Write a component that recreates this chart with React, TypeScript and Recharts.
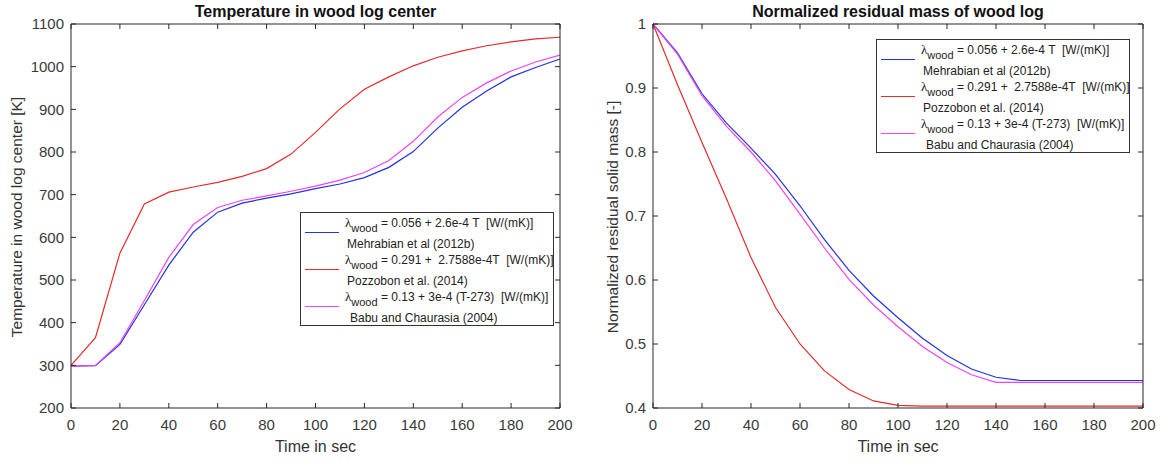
import React from 'react';
import { LineChart, Line, XAxis, YAxis } from 'recharts';

const time = [0, 10, 20, 30, 40, 50, 60, 70, 80, 90, 100, 110, 120, 130, 140, 150, 160, 170, 180, 190, 200];

// temperature in log center [K]
const tempMehrabian = [298, 299, 349, 442, 535, 612, 659, 680, 692, 702, 714, 725, 740, 764, 801, 856, 905, 943, 976, 998, 1018];
const tempPozzobon = [300, 365, 563, 678, 706, 718, 729, 743, 761, 795, 846, 901, 947, 976, 1002, 1022, 1037, 1049, 1058, 1065, 1069];
const tempBabu = [298, 300, 353, 452, 553, 630, 670, 687, 697, 708, 720, 734, 752, 780, 825, 882, 928, 962, 990, 1011, 1027];

// normalized residual solid mass [-]
const massMehrabian = [1, 0.955, 0.891, 0.845, 0.806, 0.765, 0.716, 0.663, 0.615, 0.575, 0.541, 0.509, 0.482, 0.461, 0.448, 0.443, 0.443, 0.443, 0.443, 0.443, 0.443];
const massPozzobon = [1, 0.905, 0.815, 0.727, 0.635, 0.557, 0.5, 0.458, 0.429, 0.411, 0.404, 0.403, 0.403, 0.403, 0.403, 0.403, 0.403, 0.403, 0.403, 0.403, 0.403];
const massBabu = [1, 0.953, 0.888, 0.84, 0.8, 0.755, 0.703, 0.65, 0.601, 0.561, 0.527, 0.496, 0.471, 0.452, 0.44, 0.44, 0.44, 0.44, 0.44, 0.44, 0.44];

const xTicks = [0, 20, 40, 60, 80, 100, 120, 140, 160, 180, 200];
const tempTicks = [200, 300, 400, 500, 600, 700, 800, 900, 1000, 1100];
const massTicks = [0.4, 0.5, 0.6, 0.7, 0.8, 0.9, 1];

const seriesInfo = [
  { key: 'mehrabian', color: '#2233dd', eq: ' = 0.056 + 2.6e-4 T  [W/(mK)]', src: 'Mehrabian et al (2012b)', indent: 0 },
  { key: 'pozzobon', color: '#e42c2c', eq: ' = 0.291 +  2.7588e-4T  [W/(mK)]', src: 'Pozzobon et al. (2014)', indent: 0 },
  { key: 'babu', color: '#ee44ee', eq: ' = 0.13 + 3e-4 (T-273)  [W/(mK)]', src: 'Babu and Chaurasia (2004)', indent: 3 },
];

const tempData = time.map((t, i) => ({
  t,
  mehrabian: tempMehrabian[i],
  pozzobon: tempPozzobon[i],
  babu: tempBabu[i],
}));

const massData = time.map((t, i) => ({
  t,
  mehrabian: massMehrabian[i],
  pozzobon: massPozzobon[i],
  babu: massBabu[i],
}));

const FONT = '"Liberation Sans", Arial, Helvetica, sans-serif';
const AXIS = '#262626';
const TICK_LEN = 5;
const X_GAP = 11; // from axis line to top of x tick label
const Y_GAP = 7; // from axis line to right edge of y tick label

// MATLAB style: tick marks point into the plot box
const BottomTick = (props: any) => {
  const { x, y, payload } = props;
  return (
    <g>
      <line x1={x} x2={x} y1={y} y2={y - TICK_LEN} stroke={AXIS} strokeWidth={1} />
      <text x={x} y={y + X_GAP} dy="0.71em" textAnchor="middle" fontSize={15} fontFamily={FONT} fill="#3a3a3a">
        {payload.value}
      </text>
    </g>
  );
};

const TopTick = (props: any) => {
  const { x, y } = props;
  return <line x1={x} x2={x} y1={y} y2={y + TICK_LEN} stroke={AXIS} strokeWidth={1} />;
};

const makeLeftTick = (fmt: (v: number) => string) => (props: any) => {
  const { x, y, payload } = props;
  return (
    <g>
      <line x1={x} x2={x + TICK_LEN} y1={y} y2={y} stroke={AXIS} strokeWidth={1} />
      <text x={x - Y_GAP} y={y} dy="0.355em" textAnchor="end" fontSize={15} fontFamily={FONT} fill="#3a3a3a">
        {fmt(payload.value)}
      </text>
    </g>
  );
};

const RightTick = (props: any) => {
  const { x, y } = props;
  return <line x1={x} x2={x - TICK_LEN} y1={y} y2={y} stroke={AXIS} strokeWidth={1} />;
};

const LegendBox: React.FC<{ left: number; top: number }> = ({ left, top }) => (
  <div
    style={{
      position: 'absolute',
      left,
      top,
      width: 252,
      height: 112,
      border: '1px solid #333',
      background: '#fff',
      fontFamily: FONT,
      fontSize: 12,
      color: '#222',
    }}
  >
    {seriesInfo.map((s, i) => (
      <div key={s.key} style={{ position: 'absolute', left: 0, top: i * 37, width: '100%', height: 37 }}>
        <div style={{ position: 'absolute', left: 4, top: 19, width: 34, borderTop: `1px solid ${s.color}` }} />
        <div style={{ position: 'absolute', left: 44, top: 3, whiteSpace: 'pre', lineHeight: '14px' }}>
          <span style={{ fontFamily: '"Liberation Serif", "DejaVu Serif", serif', fontSize: 13 }}>λ</span>
          <span style={{ fontSize: 11, position: 'relative', top: 5 }}>wood</span>
          {s.eq}
        </div>
        <div style={{ position: 'absolute', left: 46 + s.indent, top: 24, whiteSpace: 'pre', lineHeight: '14px' }}>
          {s.src}
        </div>
      </div>
    ))}
  </div>
);

interface PanelProps {
  left: number;
  data: any[];
  yDomain: [number, number];
  yTicks: number[];
  yWidth: number;
  rightMargin: number;
  title: string;
  yLabel: string;
  yLabelX: number;
  legendLeft: number;
  legendTop: number;
  fmt: (v: number) => string;
}

const Panel: React.FC<PanelProps> = ({ left, data, yDomain, yTicks, yWidth, rightMargin, title, yLabel, yLabelX, legendLeft, legendTop, fmt }) => {
  const plotLeft = yWidth;
  const plotRight = 580 - rightMargin;
  const cx = (plotLeft + plotRight) / 2;
  return (
    <div style={{ position: 'absolute', left, top: 0, width: 580, height: 462 }}>
      <LineChart width={580} height={462} data={data} margin={{ top: 23, right: rightMargin - 1, bottom: 14, left: 0 }}>
        <XAxis
          dataKey="t"
          type="number"
          domain={[0, 200]}
          ticks={xTicks}
          interval={0}
          tickSize={0}
          tickMargin={0}
          height={40}
          stroke={AXIS}
          tickLine={false}
          tick={BottomTick}
        />
        <XAxis
          xAxisId="top"
          orientation="top"
          dataKey="t"
          type="number"
          domain={[0, 200]}
          ticks={xTicks}
          interval={0}
          tickSize={0}
          tickMargin={0}
          height={1}
          stroke={AXIS}
          tickLine={false}
          tick={TopTick}
        />
        <YAxis
          type="number"
          domain={yDomain}
          ticks={yTicks}
          interval={0}
          tickSize={0}
          tickMargin={0}
          width={yWidth}
          stroke={AXIS}
          tickLine={false}
          tick={makeLeftTick(fmt)}
        />
        <YAxis
          yAxisId="right"
          orientation="right"
          type="number"
          domain={yDomain}
          ticks={yTicks}
          interval={0}
          tickSize={0}
          tickMargin={0}
          width={1}
          stroke={AXIS}
          tickLine={false}
          tick={RightTick}
        />
        {seriesInfo.map((s) => (
          <Line
            key={s.key}
            type="linear"
            dataKey={s.key}
            stroke={s.color}
            strokeWidth={1.2}
            dot={false}
            isAnimationActive={false}
          />
        ))}
        {/* invisible series so the top and right box axes are registered */}
        <Line
          xAxisId="top"
          yAxisId="right"
          type="linear"
          dataKey="mehrabian"
          stroke="none"
          dot={false}
          activeDot={false}
          legendType="none"
          isAnimationActive={false}
        />
      </LineChart>
      <div
        style={{
          position: 'absolute',
          left: cx - 250,
          width: 500,
          top: 2,
          textAlign: 'center',
          fontFamily: FONT,
          fontWeight: 'bold',
          fontSize: 16,
          lineHeight: '20px',
          color: '#111',
        }}
      >
        {title}
      </div>
      <div
        style={{
          position: 'absolute',
          left: cx - 100,
          width: 200,
          top: 437,
          textAlign: 'center',
          fontFamily: FONT,
          fontSize: 16,
          lineHeight: '20px',
          color: '#333',
        }}
      >
        Time in sec
      </div>
      <div
        style={{
          position: 'absolute',
          left: yLabelX - 150,
          top: 217 - 10,
          width: 300,
          textAlign: 'center',
          transform: 'rotate(-90deg)',
          fontFamily: FONT,
          fontSize: 15.5,
          lineHeight: '20px',
          color: '#333',
          whiteSpace: 'nowrap',
        }}
      >
        {yLabel}
      </div>
      <LegendBox left={legendLeft} top={legendTop} />
    </div>
  );
};

const App: React.FC = () => (
  <div style={{ position: 'absolute', left: 0, top: 0, width: 1160, height: 462, background: '#fff', overflow: 'hidden' }}>
    <Panel
      left={0}
      data={tempData}
      yDomain={[200, 1100]}
      yTicks={tempTicks}
      yWidth={71}
      rightMargin={20}
      title="Temperature in wood log center"
      yLabel="Temperature in wood log center [K]"
      yLabelX={17}
      legendLeft={300}
      legendTop={212}
      fmt={(v) => String(v)}
    />
    <Panel
      left={580}
      data={massData}
      yDomain={[0.4, 1]}
      yTicks={massTicks}
      yWidth={73}
      rightMargin={17}
      title="Normalized residual mass of wood log"
      yLabel="Normalized residual solid mass [-]"
      yLabelX={33}
      legendLeft={296}
      legendTop={39}
      fmt={(v) => (v === 1 ? '1' : v.toFixed(1))}
    />
  </div>
);

export default App;
